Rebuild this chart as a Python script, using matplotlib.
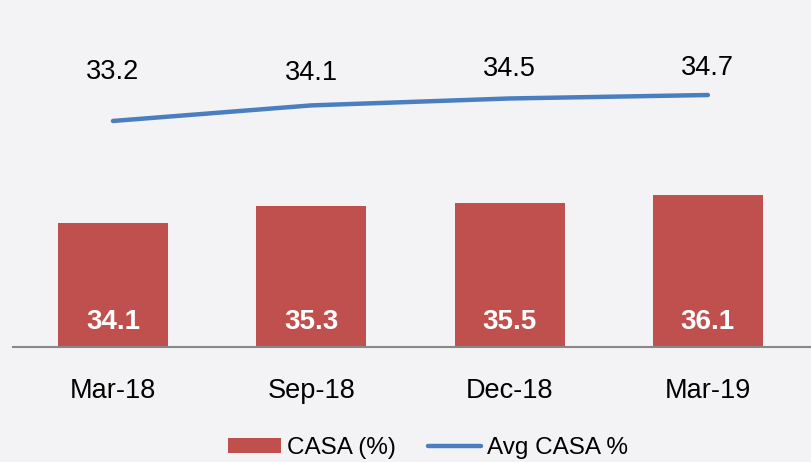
import matplotlib.pyplot as plt

plt.rcParams['font.family'] = ['Liberation Sans', 'DejaVu Sans']

periods = ['Mar-18', 'Sep-18', 'Dec-18', 'Mar-19']
casa = [34.1, 35.3, 35.5, 36.1]
avg_casa = [33.2, 34.1, 34.5, 34.7]

bar_color = '#C0504D'
line_color = '#4A7EBE'
bg = '#F3F3F5'
# how far each line label sits above its point, in points
label_lift = [35, 23, 21, 19.5]

fig = plt.figure(figsize=(8.12, 4.62), dpi=100, facecolor=bg)
ax = fig.add_axes([13 / 812, 1 - 347 / 462, 799 / 812, 347 / 462])
ax.set_facecolor('none')
x = list(range(len(periods)))

ax.bar(x, casa, width=0.555, color=bar_color, label='CASA (%)', zorder=2)
ax.set_ylim(25.24, 50.0)
ax.set_xlim(-0.504, 3.525)
for xi, v in zip(x, casa):
    ax.text(xi, 25.24 + 1.8, f'{v}', ha='center', va='center', color='white',
            fontsize=20, fontweight='bold')

ax2 = ax.twinx()
ax2.plot(x, avg_casa, color=line_color, linewidth=3.2, solid_capstyle='round',
         label='Avg CASA %', zorder=3)
ax2.set_ylim(20.14, 40.19)
for xi, v, lift in zip(x, avg_casa, label_lift):
    ax2.annotate(f'{v}', (xi, v), xytext=(0, lift), textcoords='offset points',
                 ha='center', va='center', color='black', fontsize=19.5)

for a in (ax, ax2):
    for s in ('top', 'right', 'left'):
        a.spines[s].set_visible(False)
    a.set_yticks([])
ax.spines['bottom'].set_color('#888888')
ax.spines['bottom'].set_linewidth(1.5)
ax2.spines['bottom'].set_visible(False)

ax.set_xticks(x)
ax.set_xticklabels(periods, fontsize=19.5)
ax.tick_params(axis='x', length=0, pad=22)

h1, l1 = ax.get_legend_handles_labels()
h2, l2 = ax2.get_legend_handles_labels()
fig.legend(h1 + h2, l1 + l2, loc='center', bbox_to_anchor=(0.527, 1 - 448 / 462),
           ncol=2, frameon=False, fontsize=17.5, handlelength=2.2, handleheight=0.6,
           columnspacing=1.3, handletextpad=0.25)

fig.savefig('out.png', dpi=100, facecolor=bg)
